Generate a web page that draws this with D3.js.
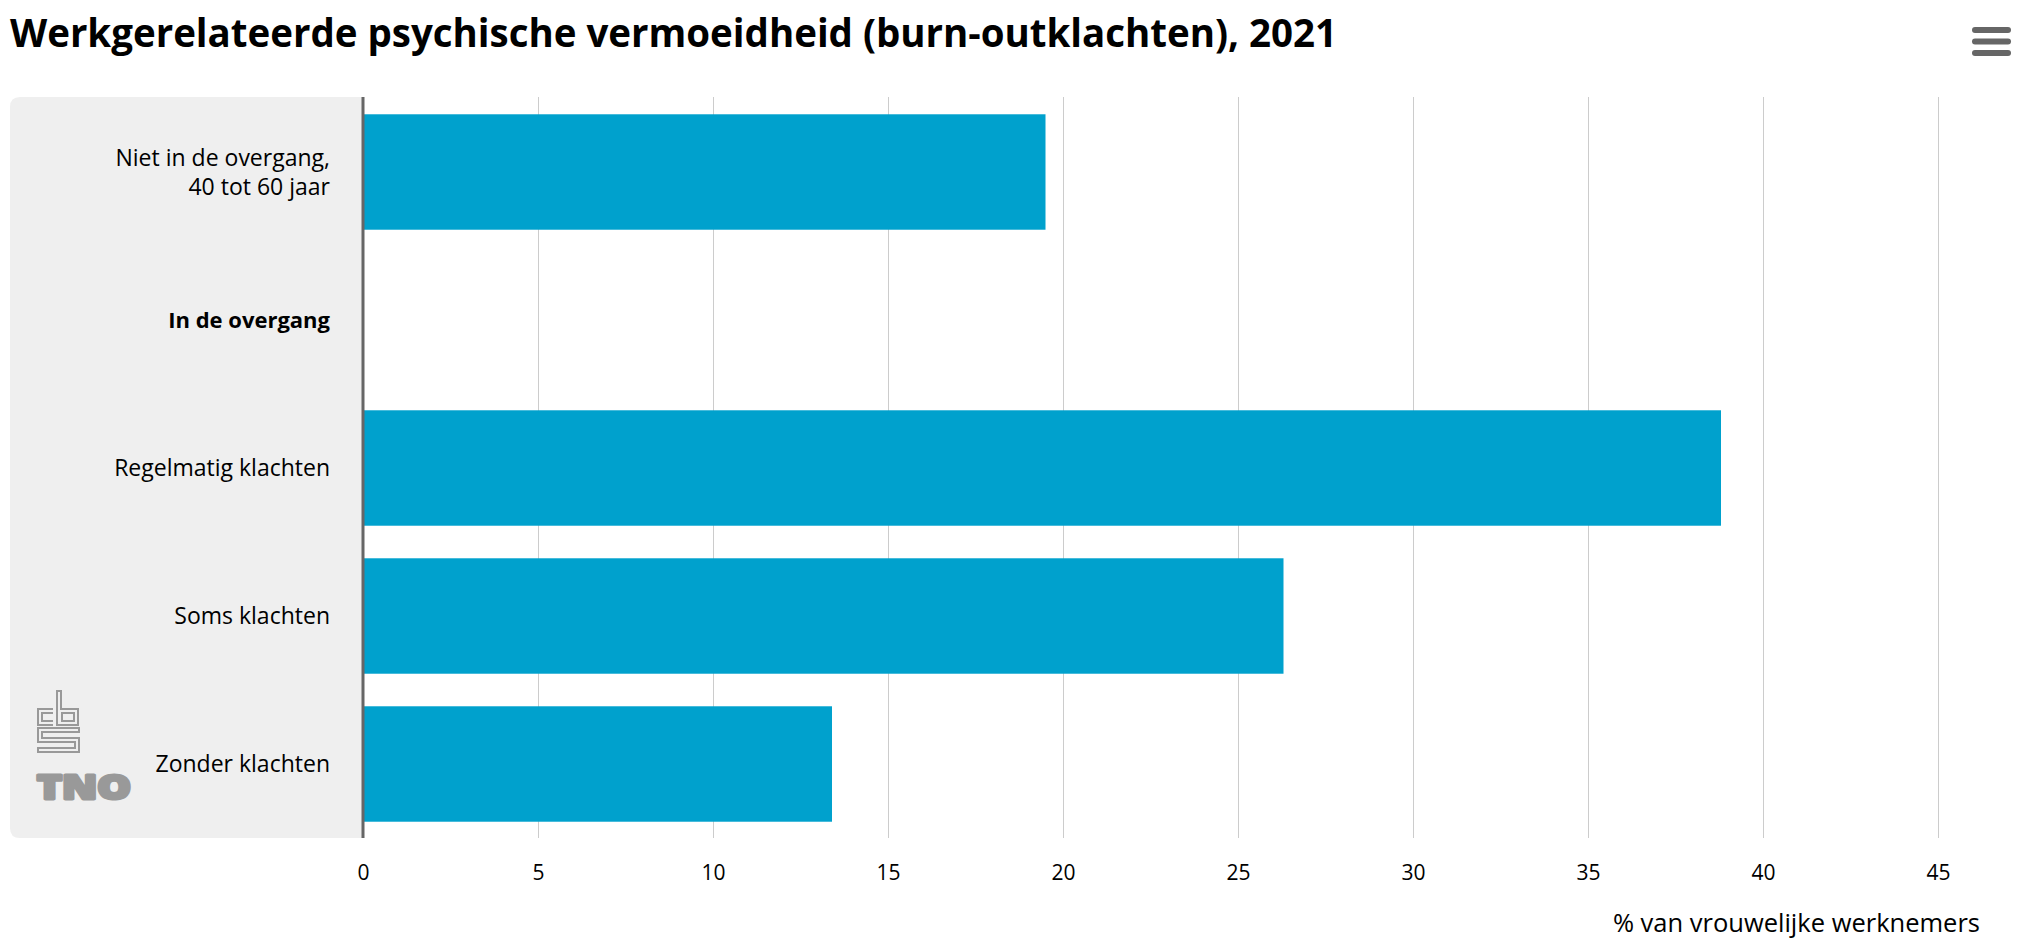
<!DOCTYPE html>
<html>
<head>
<meta charset="utf-8">
<script src="https://cdn.jsdelivr.net/npm/d3@7"></script>
<style>
  html, body { margin: 0; padding: 0; background: #ffffff; }
  svg { display: block; }
</style>
</head>
<body>
<svg id="chart" width="2020" height="945"></svg>
<script>
// ---- data ----
const title = "Werkgerelateerde psychische vermoeidheid (burn-outklachten), 2021";
const categories = [
  "Niet in de overgang,<br>40 tot 60 jaar",
  "In de overgang",
  "Regelmatig klachten",
  "Soms klachten",
  "Zonder klachten"
];
const headerCategories = ["In de overgang"];
const values = [19.5, null, 38.8, 26.3, 13.4];
const xTicks = [0, 5, 10, 15, 20, 25, 30, 35, 40, 45];
const xAxisTitle = "% van vrouwelijke werknemers";

// ---- layout ----
const W = 2020, H = 945;
const plot = { left: 363, right: 1938, top: 98, bottom: 838 };
const labelFont = "'Open Sans', 'Noto Sans', sans-serif";
const barColor = "#00a1cd";

const svg = d3.select("#chart");

const x = d3.scaleLinear().domain([0, 45]).range([plot.left, plot.right]);
const y = d3.scaleBand().domain(categories).range([plot.top, plot.bottom])
  .paddingInner(0.22).paddingOuter(0.11);

// title
svg.append("text")
  .attr("x", 10).attr("y", 47)
  .attr("font-family", "'Open Sans', 'Noto Sans', sans-serif")
  .attr("font-weight", 700)
  .attr("font-size", 40)
  .attr("fill", "#000")
  .attr("textLength", 1327)
  .attr("lengthAdjust", "spacingAndGlyphs")
  .text(title);

// hamburger menu
[30, 41.5, 53].forEach(yy => {
  svg.append("line")
    .attr("x1", 1975).attr("x2", 2008).attr("y1", yy).attr("y2", yy)
    .attr("stroke", "#666").attr("stroke-width", 6).attr("stroke-linecap", "round");
});

// left label panel with rounded left corners
const pl = 10, pr = plot.left, pt = plot.top - 1, pb = plot.bottom, r = 10;
svg.append("path")
  .attr("d", `M${pr},${pt} L${pl + r},${pt} Q${pl},${pt} ${pl},${pt + r} L${pl},${pb - r} Q${pl},${pb} ${pl + r},${pb} L${pr},${pb} Z`)
  .attr("fill", "#efefef");

// gridlines
svg.append("g").selectAll("line")
  .data(xTicks.filter(d => d !== 0))
  .join("line")
  .attr("x1", d => Math.round(x(d)) + 0.5).attr("x2", d => Math.round(x(d)) + 0.5)
  .attr("y1", plot.top - 1).attr("y2", plot.bottom)
  .attr("stroke", "#cccccc").attr("stroke-width", 1);

// bars
svg.append("g").selectAll("rect")
  .data(categories.map((c, i) => ({ c, v: values[i] })).filter(d => d.v != null))
  .join("rect")
  .attr("x", x(0))
  .attr("y", d => y(d.c))
  .attr("width", d => x(d.v) - x(0))
  .attr("height", y.bandwidth())
  .attr("fill", barColor);

// y axis line
svg.append("line")
  .attr("x1", plot.left).attr("x2", plot.left)
  .attr("y1", plot.top - 1).attr("y2", plot.bottom)
  .attr("stroke", "#666666").attr("stroke-width", 3);

// category labels
const lab = svg.append("g");
categories.forEach(c => {
  const lines = c.split("<br>");
  const cy = y(c) + y.bandwidth() / 2;
  const lh = 29;
  const isHeader = headerCategories.includes(c);
  const t = lab.append("text")
    .attr("x", 330)
    .attr("text-anchor", "end")
    .attr("font-family", labelFont)
    .attr("font-size", isHeader ? 22 : 23)
    .attr("font-weight", isHeader ? 700 : 400)
    .attr("fill", "#000");
  lines.forEach((ln, i) => {
    t.append("tspan")
      .attr("x", 330)
      .attr("y", cy + (i - (lines.length - 1) / 2) * lh)
      .attr("dy", "0.35em")
      .text(ln);
  });
});

// x axis tick labels via d3 axis
const xAxis = d3.axisBottom(x).tickValues(xTicks).tickSize(0).tickPadding(0);
const gx = svg.append("g").attr("transform", `translate(0, ${plot.bottom})`).call(xAxis);
gx.select(".domain").remove();
gx.selectAll("text")
  .attr("y", 35)
  .attr("dy", "0.35em")
  .attr("font-family", labelFont)
  .attr("font-size", 21)
  .attr("fill", "#000");

// x axis title
svg.append("text")
  .attr("x", 1980).attr("y", 923)
  .attr("dy", "0.35em")
  .attr("text-anchor", "end")
  .attr("font-family", labelFont)
  .attr("font-size", 25.5)
  .attr("fill", "#000")
  .text(xAxisTitle);

// logos (CBS + TNO)
const logo = svg.append("g").attr("fill", "none").attr("stroke", "#999").attr("stroke-width", 2);
// c
logo.append("path").attr("d", "M53,709 H38 V725 H53 M53,713 H42 V721 H53");
// b
logo.append("path").attr("d", "M57,691 H61 V709 H78 V725 H57 Z M62,713 H74 V721 H62 Z");
// S
logo.append("path").attr("d", "M79,728 H38 V742 H75 V748 H38 V752 H79 V738 H42 V732 H79 Z");
svg.append("text")
  .attr("x", 37).attr("y", 799)
  .attr("font-family", "'Open Sans', Roboto, sans-serif")
  .attr("font-weight", 800)
  .attr("font-size", 33)
  .attr("fill", "#999")
  .attr("stroke", "#999")
  .attr("stroke-width", 3)
  .attr("stroke-linejoin", "round")
  .attr("textLength", 94)
  .attr("lengthAdjust", "spacingAndGlyphs")
  .text("TNO");
</script>
</body>
</html>
